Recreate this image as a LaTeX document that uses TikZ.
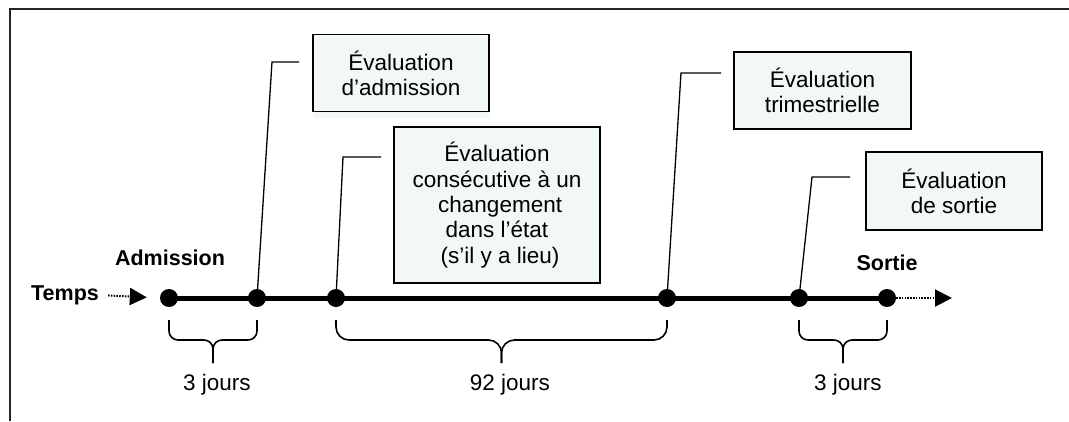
\documentclass[tikz,border=0pt]{standalone}
\usepackage{fontspec}
\setmainfont{Liberation Sans}
\usetikzlibrary{arrows.meta}
\definecolor{evalfond}{HTML}{F2F8F6}
\def\accolade(#1:#2)[#3]{\draw[accolade, rounded corners=#3] (#1,320) |- ({(#1+#2)/2},340) -- ({(#1+#2)/2},363); \draw[accolade, rounded corners=#3] (#2,320) |- ({(#1+#2)/2},340) -- ({(#1+#2)/2},363);}

\begin{document}
\begin{tikzpicture}[x=1pt, y=-1pt, font=\fontsize{22.5}{25.3}\selectfont,
		evalbox/.style={draw=black, line width=1.8pt, fill=evalfond, align=center, inner sep=0pt},
		jalon/.style={circle, fill=black, inner sep=0pt, minimum size=18pt},
		etiq/.style={inner sep=0pt, font=\fontsize{21.5}{25.3}\selectfont\bfseries},
		renvoi/.style={line width=1.3pt},
		accolade/.style={line width=1.6pt},
		pointille/.style={line width=2pt, dash pattern=on 1.5pt off 1.3pt, -{Triangle[length=17pt, width=17pt]}}]
			%%%%% START %%%%%
			\useasboundingbox (0,0) rectangle (1069,421);
			
			\draw[line width=1.6pt, color=black!85] (10,421) -- (10,9) -- (1069,9);
			
			\fill[evalfond] (313,111) rectangle (489,118);
			\node[evalbox, minimum width=176pt, minimum height=77pt] (ead) at (401,73) {Évaluation\\d’admission};
			\node[evalbox, minimum width=206pt, minimum height=156pt] (ech) at (497,205) {Évaluation\\consécutive à un\\~changement\\dans l’état\\~(s’il y a lieu)};
			\node[evalbox, minimum width=177pt, minimum height=77pt] (etr) at (822.5,90.5) {Évaluation\\trimestrielle};
			\node[evalbox, minimum width=176pt, minimum height=78pt] (eso) at (954,191) {Évaluation\\de sortie};
			
			\node[jalon] (adm) at (169,298) {};
			\node[jalon] (jad) at (257,298) {};
			\node[jalon] (jch) at (336,298) {};
			\node[jalon] (jtr) at (667,298) {};
			\node[jalon] (jso) at (799,298) {};
			\node[jalon] (sor) at (887,298) {};
			\draw[line width=5pt] (adm.center) -- (sor.center);
			
			\coordinate (r1a) at (272,62);
			\coordinate (r1b) at (299,62);
			\coordinate (r2a) at (343,157);
			\coordinate (r2b) at (381,157);
			\coordinate (r3a) at (681,73);
			\coordinate (r3b) at (721,73);
			\coordinate (r4a) at (812,177);
			\coordinate (r4b) at (850,177);
			\draw[renvoi] (jad.center) -- (r1a) -- (r1b);
			\draw[renvoi] (jch.center) -- (r2a) -- (r2b);
			\draw[renvoi] (jtr.center) -- (r3a) -- (r3b);
			\draw[renvoi] (jso.center) -- (r4a) -- (r4b);
			
			\node[etiq] (temps) at (65,295) {Temps};
			\node[etiq] (ladm) at (170,258) {Admission};
			\node[etiq] (lsor) at (887,263) {Sortie};
			\coordinate (fin) at (952,298);
			\draw[pointille, shorten <=9pt, shorten >=13pt] (temps.east) -- (adm.west);
			\draw[pointille] (sor.east) -- (fin);
			
			\accolade(169:257)[9pt]
			\accolade(336:667)[13pt]
			\accolade(799:887)[9pt]
			
			\node (d1) at (217,385) {3 jours};
			\node (d2) at (510,385) {92 jours};
			\node (d3) at (848,385) {3 jours};
			%%%%% END %%%%%
		\end{tikzpicture}
\end{document}
